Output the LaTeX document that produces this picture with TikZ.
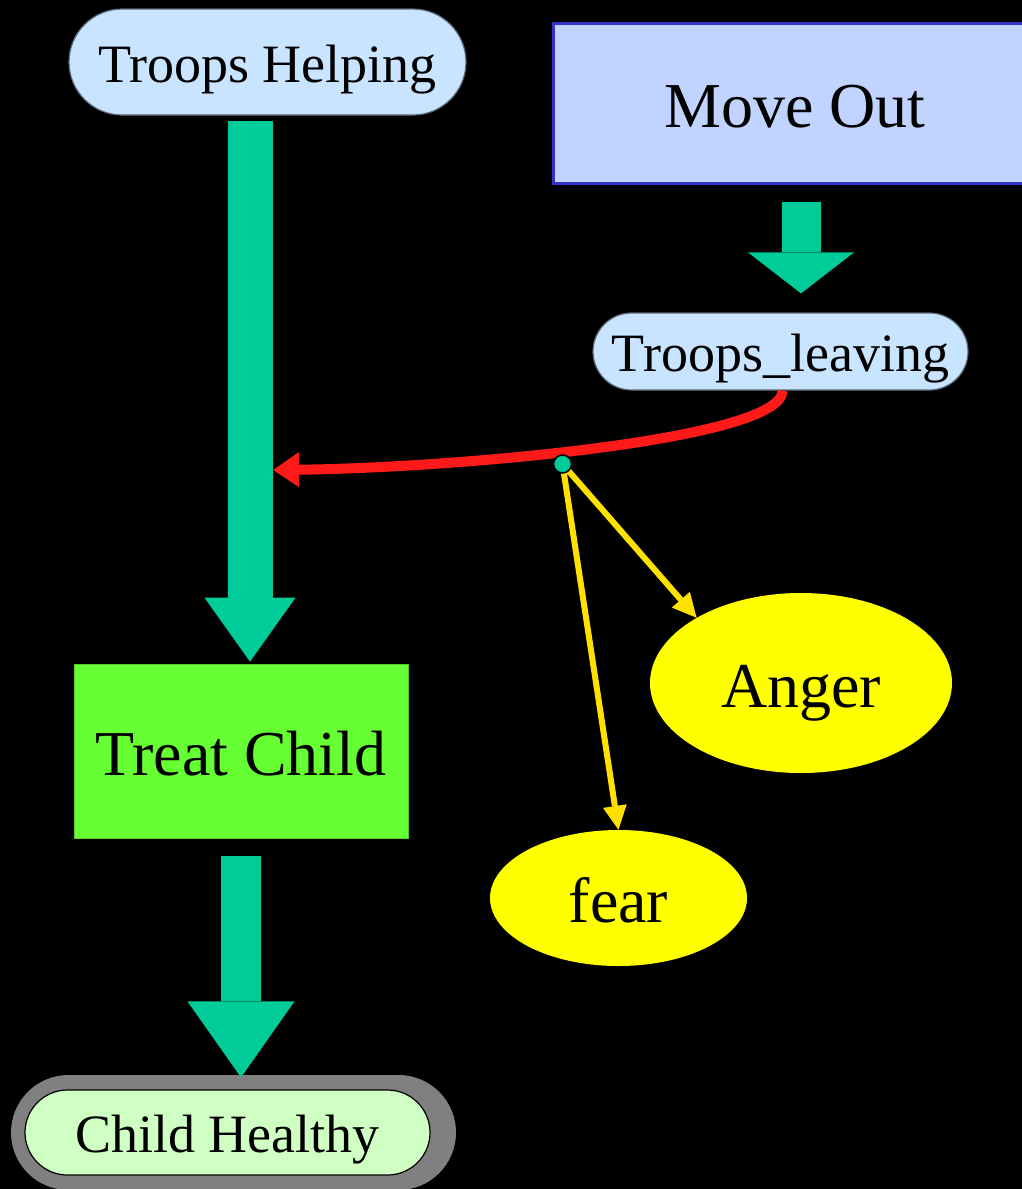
\documentclass[tikz,border=0pt]{standalone}
\usepackage{fontspec}
\setmainfont{Liberation Serif}
\usetikzlibrary{arrows.meta,shapes.geometric}
\definecolor{tealarrow}{HTML}{00CC99}
\definecolor{pillblue}{HTML}{C8E4FF}
\definecolor{pillline}{HTML}{5A6878}
\definecolor{moveblue}{HTML}{C0D4FF}
\definecolor{moveline}{HTML}{3333CC}
\definecolor{treatgreen}{HTML}{66FF33}
\definecolor{healthgreen}{HTML}{D0FFC4}
\definecolor{ringgray}{HTML}{808080}
\definecolor{emoyellow}{HTML}{FFFF00}
\definecolor{linkyellow}{HTML}{FFE100}
\definecolor{linkred}{HTML}{FF1A1A}
\tikzset{
  smalltext/.style={font=\fontsize{54}{60}\selectfont, text height=40pt, text depth=0pt},
  bigtext/.style={font=\fontsize{64}{72}\selectfont, text height=48pt, text depth=0pt},
  pillnode/.style={smalltext, draw=pillline, line width=1.2pt, fill=pillblue, inner sep=0pt},
  blockarrow/.style={draw=tealarrow, fill=tealarrow},
  emotion/.style={ellipse, bigtext, fill=emoyellow, inner sep=0pt},
  yellowlink/.style={draw=linkyellow, line width=6pt, -{Triangle[length=24pt,width=24pt,line width=0pt]}},
}
\begin{document}
\begin{tikzpicture}[x=1pt,y=-1pt]
\useasboundingbox (0,0) rectangle (1022,1189);
\clip (0,0) rectangle (1022,1189);
\fill[black] (0,0) rectangle (1022,1189);

% nodes
\node[pillnode, minimum width=397pt, minimum height=106pt, rounded corners=53pt] (th) at (267.5,62) {Troops Helping};
\node[bigtext, draw=moveline, line width=3pt, fill=moveblue, minimum width=484pt, minimum height=160pt, inner sep=0pt] (mo) at (795,103) {Move Out};
\node[pillnode, minimum width=375pt, minimum height=77pt, rounded corners=38.5pt] (tl) at (780.5,351.5) {Troops\_leaving};
\node[bigtext, fill=treatgreen, draw=treatgreen!80!black, line width=0.6pt, minimum width=334pt, minimum height=174pt, inner sep=0pt] (tc) at (241,751) {Treat Child};
\node[fill=ringgray, minimum width=445pt, minimum height=115pt, rounded corners=57.5pt, inner sep=0pt] (chring) at (233.5,1132.5) {};
\node[smalltext, draw=black, line width=1.2pt, fill=healthgreen, minimum width=405pt, minimum height=85pt, rounded corners=42.5pt, inner sep=0pt] (ch) at (227.5,1132.5) {Child Healthy};
\node[emotion, minimum width=302pt, minimum height=180pt] (anger) at (801,683) {Anger};
\node[emotion, minimum width=257pt, minimum height=136pt] (fear) at (618.5,898) {fear};

% block arrows
\draw[blockarrow, line width=45pt, shorten <=5pt, shorten >=2pt,
      -{Triangle[length=64pt,width=91pt,line width=0pt]}]
  ([xshift=-17.5pt]th.south) -- ([xshift=9pt]tc.north);
\draw[blockarrow, line width=39pt, shorten <=17pt, shorten >=19pt,
      -{Triangle[length=41pt,width=106pt,line width=0pt]}]
  ([xshift=6pt]mo.south) -- ([xshift=20.5pt]tl.north);
\draw[blockarrow, line width=40pt, shorten <=18pt, shorten >=12pt,
      -{Triangle[length=76pt,width=107pt,line width=0pt]}]
  (tc.south) -- ([xshift=13.5pt]ch.north);

% red influence curve
\coordinate (hit) at (273,470);
\coordinate (dotc) at (562.5,464);
\draw[draw=linkred, line width=10pt, -{Triangle[length=26pt,width=35pt,line width=0pt]}]
  ([xshift=2pt]tl.south) .. controls (783,440) and (450,468) .. (hit);

% yellow links
\draw[yellowlink] (dotc) -- (anger.148);
\draw[yellowlink] (dotc) -- (fear.north);

% junction dot
\node[circle, fill=tealarrow, draw=black, line width=1.5pt, minimum size=18pt, inner sep=0pt] (dot) at (dotc) {};
\end{tikzpicture}
\end{document}
